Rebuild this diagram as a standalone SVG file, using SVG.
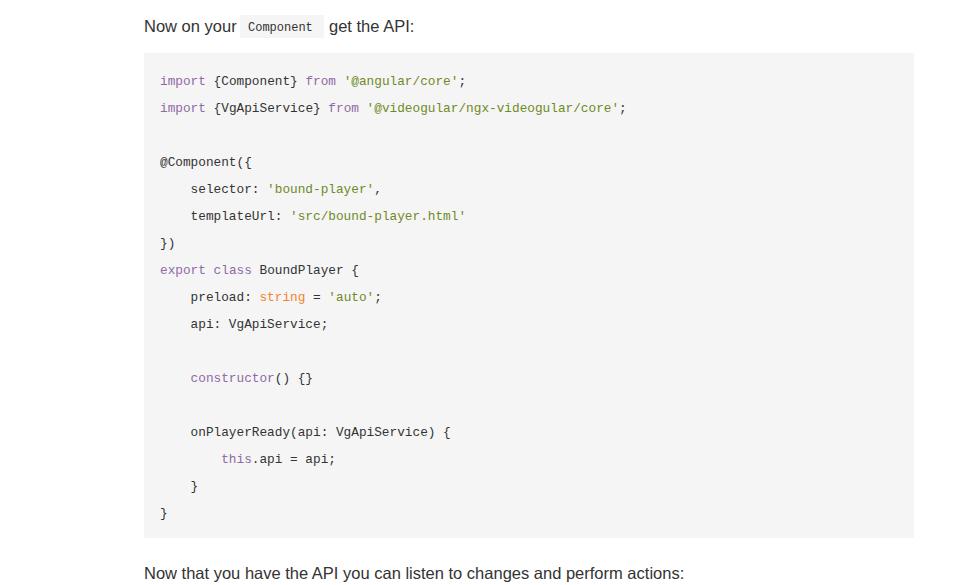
<svg xmlns="http://www.w3.org/2000/svg" width="977" height="585" viewBox="0 0 977 585">
<style>
.p{font-family:"Liberation Sans",Arial,sans-serif;font-size:16.5px;fill:#333}
.c{font-family:"Liberation Mono","DejaVu Sans Mono",monospace;font-size:12.75px;fill:#333;white-space:pre}
.k{fill:#8e6aa6}
.s{fill:#6f8a1f}
.t{fill:#f2852b}
</style>
<rect width="977" height="585" fill="#ffffff"/>
<text class="p" x="144" y="32">Now on your</text>
<rect x="240" y="15" width="84" height="23" fill="#f5f5f5"/>
<text class="c" x="248" y="31" style="font-size:12px">Component</text>
<text class="p" x="329" y="32">get the API:</text>
<rect x="144" y="53" width="770" height="485" fill="#f5f5f5"/>
<g id="code">
<text class="c" x="160" y="85"><tspan class="k">import</tspan> {Component} <tspan class="k">from</tspan> <tspan class="s">'@angular/core'</tspan>;</text>
<text class="c" x="160" y="112"><tspan class="k">import</tspan> {VgApiService} <tspan class="k">from</tspan> <tspan class="s">'@videogular/ngx-videogular/core'</tspan>;</text>
<text class="c" x="160" y="166">@Component({</text>
<text class="c" x="190.6" y="193">selector: <tspan class="s">'bound-player'</tspan>,</text>
<text class="c" x="190.6" y="220">templateUrl: <tspan class="s">'src/bound-player.html'</tspan></text>
<text class="c" x="160" y="247">})</text>
<text class="c" x="160" y="274"><tspan class="k">export</tspan> <tspan class="k">class</tspan> BoundPlayer {</text>
<text class="c" x="190.6" y="301">preload: <tspan class="t">string</tspan> = <tspan class="s">'auto'</tspan>;</text>
<text class="c" x="190.6" y="328">api: VgApiService;</text>
<text class="c" x="190.6" y="382"><tspan class="k">constructor</tspan>() {}</text>
<text class="c" x="190.6" y="436">onPlayerReady(api: VgApiService) {</text>
<text class="c" x="221.2" y="463"><tspan class="k">this</tspan>.api = api;</text>
<text class="c" x="190.6" y="490">}</text>
<text class="c" x="160" y="517">}</text>
</g>
<text class="p" x="144" y="579">Now that you have the API you can listen to changes and perform actions:</text>
</svg>
